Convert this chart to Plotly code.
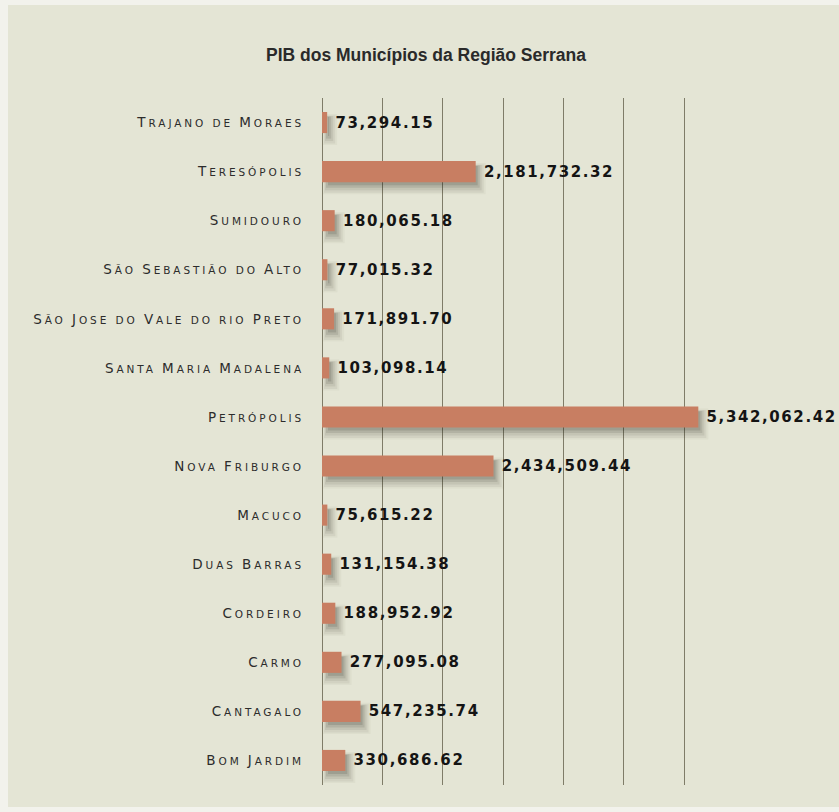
import plotly.graph_objects as go

# Municipalities of the Região Serrana, listed bottom-to-top as drawn
municipios = [
    "Bom Jardim",
    "Cantagalo",
    "Carmo",
    "Cordeiro",
    "Duas Barras",
    "Macuco",
    "Nova Friburgo",
    "Petrópolis",
    "Santa Maria Madalena",
    "São Jose do Vale do rio Preto",
    "São Sebastião do Alto",
    "Sumidouro",
    "Teresópolis",
    "Trajano de Moraes",
]
pib = [
    330686.62,
    547235.74,
    277095.08,
    188952.92,
    131154.38,
    75615.22,
    2434509.44,
    5342062.42,
    103098.14,
    171891.70,
    77015.32,
    180065.18,
    2181732.32,
    73294.15,
]

# Axis extent and grid (seven equal divisions, no tick labels)
x_max = 6_000_000
grid_vals = [x_max * k / 7 for k in range(8)]

# Page geometry (pixels)
W, H = 839, 812
PLOT_L, PLOT_R, PLOT_T, PLOT_B = 322, 745, 98, 785
plot_w = PLOT_R - PLOT_L
px = x_max / plot_w  # data units per pixel along x
band = (PLOT_B - PLOT_T) / len(municipios)  # pixels per category

BG = "#e4e5d5"
BAR = "#c87e62"
GRID = "#7f7c68"

bar_w = 0.43

fig = go.Figure()

# Soft drop shadow under each bar, built from stacked translucent layers
shadow_layers = [
    # (extra length px, start px, drop px, extra thickness px, alpha)
    (10, 1, 7, 10, 0.04),
    (8, 2, 7, 7, 0.06),
    (6, 3, 6, 4, 0.08),
    (4, 4, 5, 1, 0.11),
    (2, 6, 4, -2, 0.14),
]
for ext, start, drop, thick, alpha in shadow_layers:
    w = bar_w + thick / band
    fig.add_trace(go.Bar(
        y=municipios,
        x=[v + ext * px - start * px for v in pib],
        base=start * px,
        orientation="h",
        width=w,
        offset=-w / 2 - drop / band,
        marker=dict(color=f"rgba(40,40,28,{alpha})", line=dict(width=0)),
        hoverinfo="skip",
        showlegend=False,
        cliponaxis=False,
    ))

# Main bars with value labels
fig.add_trace(go.Bar(
    y=municipios,
    x=pib,
    orientation="h",
    width=bar_w,
    offset=-bar_w / 2,
    marker=dict(color=BAR, line=dict(width=0)),
    texttemplate="\u00a0<span style=\"letter-spacing:1.6px\">%{x:,.2f}</span>",
    textposition="outside",
    constraintext="none",
    textfont=dict(family="DejaVu Sans", size=15, color="#141414", weight="bold"),
    cliponaxis=False,
    showlegend=False,
))

# Beige panel behind everything
shapes = [dict(
    type="rect", xref="paper", yref="paper", layer="below",
    x0=(8 - PLOT_L) / plot_w, x1=(W - PLOT_L) / plot_w,
    y0=(PLOT_B - 807) / (PLOT_B - PLOT_T), y1=(PLOT_B - 5) / (PLOT_B - PLOT_T),
    fillcolor=BG, line=dict(width=0),
)]


def small_caps(name, big=13.5, small=10.5, spacing=2.9):
    """Render a name in small capitals: capitals full size, other letters as
    reduced capitals, with wide tracking."""
    parts = []
    for ch in name:
        if ch.isupper():
            parts.append(f'<span style="font-size:{big}px">{ch}</span>')
        else:
            parts.append(f'<span style="font-size:{small}px">{ch.upper()}</span>')
    return f'<span style="letter-spacing:{spacing}px">' + "".join(parts) + "</span>"


ticktext = [small_caps(m) for m in municipios]

fig.update_layout(
    width=W,
    height=H,
    margin=dict(l=PLOT_L, r=W - PLOT_R, t=PLOT_T, b=H - PLOT_B, autoexpand=False),
    paper_bgcolor="#f2f2ec",
    plot_bgcolor="rgba(0,0,0,0)",
    barmode="overlay",
    shapes=shapes,
    title=dict(
        text="PIB dos Municípios da Região Serrana",
        x=426 / W, xanchor="center", xref="container",
        y=1 - 55 / H, yanchor="middle", yref="container",
        font=dict(family="Liberation Sans", size=17.5, color="#2a2a2a", weight="bold"),
    ),
    xaxis=dict(
        range=[0, x_max * 1.0008],
        tickvals=grid_vals,
        showticklabels=False,
        showgrid=True,
        gridcolor=GRID,
        gridwidth=1,
        zeroline=True,
        zerolinecolor=GRID,
        zerolinewidth=1,
        showline=False,
        ticks="",
        fixedrange=True,
    ),
    yaxis=dict(
        type="category",
        categoryorder="array",
        categoryarray=municipios,
        tickvals=municipios,
        ticktext=ticktext,
        showgrid=False,
        showline=False,
        zeroline=False,
        ticks="",
        ticklabelstandoff=17,
        tickfont=dict(family="DejaVu Sans", size=13.5, color="#2c2c2c"),
        fixedrange=True,
    ),
)

fig.write_html("out.html")
